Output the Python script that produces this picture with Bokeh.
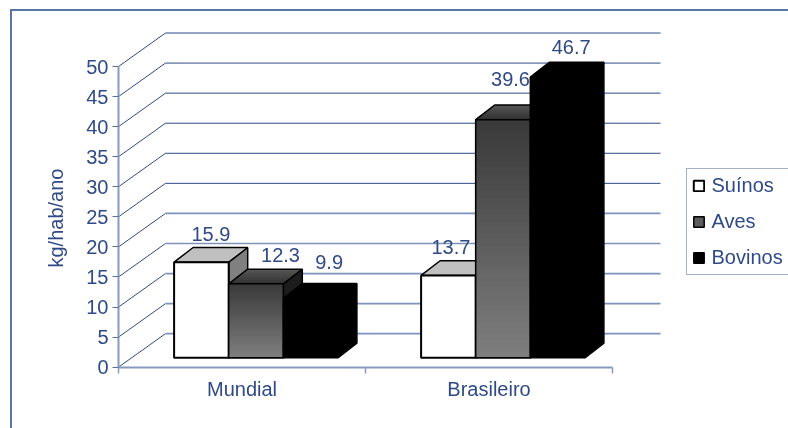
from bokeh.embed import file_html
from bokeh.resources import INLINE
from bokeh.plotting import figure
from bokeh.core.properties import value
from bokeh.models import (BoxAnnotation, FixedTicker, InlineStyleSheet, Legend,
                          LegendItem, LinearAxis, Range1d, Title)

categories = ["Mundial", "Brasileiro"]
series_names = ["Suínos", "Aves", "Bovinos"]
suinos = [15.9, 13.7]
aves = [12.3, 39.6]
bovinos = [9.9, 46.7]
y_ticks = [0, 5, 10, 15, 20, 25, 30, 35, 40, 45, 50]

W, H = 788, 428
PLOT_L, ZERO_PX, FRAME_B = 118, 366.67, 367
U = 247.0          # px per category
V = 6.013          # px per value unit
TXT = "#2f4a86"
FONT = "Liberation Sans"
FS = "20px"

p = figure(width=W, height=H, output_backend="svg", toolbar_location=None,
           x_axis_location=None, y_axis_location=None,
           x_range=Range1d(0, (W - PLOT_L) / U),
           y_range=Range1d(-(FRAME_B - ZERO_PX) / V, ZERO_PX / V),
           min_border_left=PLOT_L, min_border_right=0, min_border_top=0,
           min_border_bottom=H - FRAME_B,
           outline_line_color=None, background_fill_color="white", border_fill_color="white")
p.grid.visible = False
p.styles = {"position": "fixed", "left": "0", "top": "0", "overflow": "hidden"}
# outer chart frame, which runs off the right and bottom of the picture
p.stylesheets = [InlineStyleSheet(css=""":host::after {
  content: ""; position: absolute; left: 10px; top: 9px; width: 900px; height: 600px;
  border: 2px solid #5a76a0; pointer-events: none; z-index: 5; }""")]

# walls: slanted left wall + back wall lines
WALL_DX, WALL_DY = 47 / U, 33.5 / V
WALL_W = 495 / U
for t in y_ticks:
    p.line([0, WALL_DX], [t, t + WALL_DY], line_color=TXT, line_width=1)
    light = t <= 20
    p.line([WALL_DX, WALL_DX + WALL_W], [t + WALL_DY, t + WALL_DY],
           line_color="#7f92bb" if light else TXT, line_width=1.7 if light else 1)

# axes
yax = LinearAxis(ticker=FixedTicker(ticks=y_ticks), bounds=(0, 50),
                 axis_line_color="#8a9abf", axis_line_width=2,
                 major_tick_line_color="#5a70a0", major_tick_out=6, major_tick_in=0,
                 minor_tick_out=0, minor_tick_in=0, major_label_standoff=4,
                 major_label_text_color=TXT, major_label_text_font=FONT,
                 major_label_text_font_size=FS)
p.add_layout(yax, "left")
p.add_layout(Title(text="kg/hab/ano", align="left", offset=100, standoff=34,
                   text_color=TXT, text_font=FONT, text_font_size=FS,
                   text_font_style="normal"), "left")

xax = LinearAxis(ticker=FixedTicker(ticks=[0.5, 1.5], minor_ticks=[0, 1, 2]), bounds=(0, 2),
                 major_label_overrides={0.5: categories[0], 1.5: categories[1]},
                 axis_line_color="#8a9abf", axis_line_width=2,
                 major_tick_out=0, major_tick_in=0,
                 minor_tick_line_color="#8a9abf", minor_tick_line_width=1.5,
                 minor_tick_out=6, minor_tick_in=0, major_label_standoff=4,
                 major_label_text_color=TXT, major_label_text_font=FONT,
                 major_label_text_font_size=FS)
p.add_layout(xax, "below")

# bars
BAR_W = 54.6 / U
GROUP_X = 55.6 / U
BASE = (ZERO_PX - 357.3) / V
DX, DY = 19 / U, 14.7 / V

styles = [
    dict(front=("#ffffff", "#ffffff"), top=("#c0c0c0", "#c0c0c0"), side="#808080"),
    dict(front=("#3a3a3a", "#808080"), top=("#333333", "#5a5a5a"), side="#1c1c1c"),
    dict(front=("#000000", "#000000"), top=("#000000", "#000000"), side="#000000"),
]
label_dx = [[0, 15, 9], [-7, -2, 4]]
label_dy = [[37.4, 38, 45], [38, 50, 39]]
STRIPS = 40
LINE = "#000000"


def mix(a, b, t):
    ca = [int(a[i:i + 2], 16) for i in (1, 3, 5)]
    cb = [int(b[i:i + 2], 16) for i in (1, 3, 5)]
    return "#%02x%02x%02x" % tuple(round(x + (y - x) * t) for x, y in zip(ca, cb))


legend_renderers = {}
series = [suinos, aves, bovinos]


def draw_label(c, s, val, x0):
    p.text([x0 + BAR_W / 2 + DX / 2], [BASE + val], text=[f"{val:.1f}"],
           x_offset=label_dx[c][s], y_offset=-label_dy[c][s] + 9.2,
           text_align="center", text_baseline="middle",
           text_color=TXT, text_font=value(FONT), text_font_size=FS)


for c in range(2):
    for s in range(3):
        val = series[s][c]
        st = styles[s]
        x0 = c + GROUP_X + s * BAR_W
        x1 = x0 + BAR_W
        top = BASE + val
        if s == 2 and c == 1:
            # this label sits behind the tallest bar
            draw_label(c, 1, series[1][c], c + GROUP_X + BAR_W)
        # side
        p.patch([x1, x1 + DX, x1 + DX, x1], [BASE, BASE + DY, top + DY, top],
                fill_color=st["side"], line_color=LINE, line_width=1.5)
        # top face: each strip overlaps the ones behind it, so no seams show
        n_top = 8 if st["top"][0] != st["top"][1] else 1
        for k in range(n_top):
            a = k / n_top
            p.patch([x0 + DX * a, x1 + DX * a, x1 + DX, x0 + DX],
                    [top + DY * a, top + DY * a, top + DY, top + DY],
                    fill_color=mix(st["top"][0], st["top"][1], a), line_color=None)
        p.patch([x0, x1, x1 + DX, x0 + DX], [top, top, top + DY, top + DY],
                fill_color=None, line_color=LINE, line_width=1.5)
        # front
        r = p.quad(left=[x0], right=[x1], bottom=[BASE], top=[top],
                   fill_color=mix(st["front"][0], st["front"][1], 0.5),
                   line_color=LINE, line_width=2 if s == 0 else 1.5)
        legend_renderers.setdefault(s, r)
        if s == 1:
            for k in range(STRIPS):
                a = k / STRIPS
                p.quad(left=[x0], right=[x1], top=[top - val * a], bottom=[BASE],
                       fill_color=mix(st["front"][0], st["front"][1], a), line_color=None)
            p.quad(left=[x0], right=[x1], bottom=[BASE], top=[top],
                   fill_color=None, line_color=LINE, line_width=1.5)
    for s in range(3):
        if c == 1 and s == 1:
            continue
        draw_label(c, s, series[s][c], c + GROUP_X + s * BAR_W)

# legend
legend = Legend(items=[LegendItem(label=series_names[i], renderers=[legend_renderers[i]]) for i in range(3)],
                location=(567.5, 92), orientation="vertical",
                label_text_color=TXT, label_text_font=FONT, label_text_font_size=FS,
                label_standoff=7, glyph_width=13, glyph_height=13, label_height=20,
                spacing=13, padding=5, margin=0,
                border_line_color="#4a6694", border_line_width=1.5, background_fill_alpha=1)
p.add_layout(legend, "center")

# gradient on the "Aves" legend swatch
for k in range(11):
    p.add_layout(BoxAnnotation(left=693, right=704, top=182 + k, bottom=183 + k,
                               left_units="canvas", right_units="canvas",
                               top_units="canvas", bottom_units="canvas",
                               fill_color=mix("#3a3a3a", "#808080", k / 10), fill_alpha=1,
                               line_color=None))

open("out.html", "w").write(file_html(p, INLINE))
